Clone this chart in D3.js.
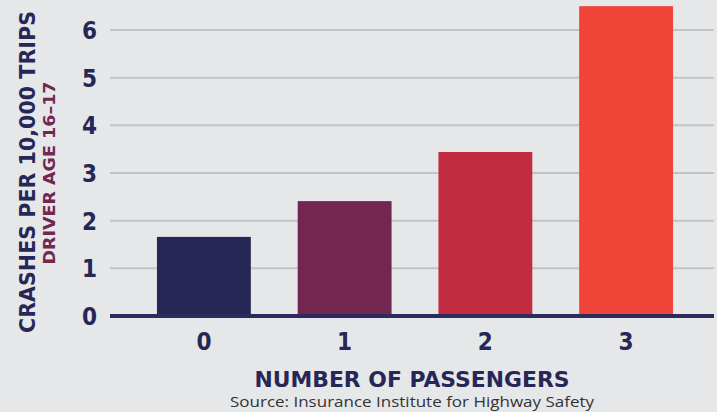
<!DOCTYPE html>
<html><head><meta charset="utf-8">
<script src="https://cdn.jsdelivr.net/npm/d3@7"></script>
<style>body{margin:0;background:#e6e7e9}</style>
</head><body>
<svg id="c" width="717" height="412"></svg>
<script>
const categories = ["0","1","2","3"];
const values = [1.66, 2.41, 3.44, 6.5];
const colors = ["#262756","#722650","#c22b40","#f04438"];
const yTicks = [0,1,2,3,4,5,6];

const svg = d3.select("#c");
svg.append("rect").attr("width",717).attr("height",412).attr("fill","#e6e7e9");
const x = d3.scaleBand().domain(categories).range([133.5, 696.5]).paddingInner(0.333).paddingOuter(0.1667);
const y = d3.scaleLinear().domain([0,6]).range([316, 30]);

const grid = svg.append("g");
grid.selectAll("line").data(yTicks.filter(d=>d>0)).join("line")
  .attr("x1",110).attr("x2",714).attr("y1",d=>y(d)).attr("y2",d=>y(d))
  .attr("stroke","#c2c3c5").attr("stroke-width",2);

svg.append("g").selectAll("rect").data(values).join("rect")
  .attr("x",(d,i)=>x(categories[i])).attr("width",x.bandwidth())
  .attr("y",d=>y(d)).attr("height",d=>y(0)-y(d))
  .attr("fill",(d,i)=>colors[i]);

svg.append("line").attr("x1",110).attr("x2",714).attr("y1",y(0)).attr("y2",y(0))
  .attr("stroke","#2b2b5e").attr("stroke-width",4);

const tf = "'DejaVu Sans Condensed','DejaVu Sans',sans-serif";
svg.append("g").selectAll("text").data(yTicks).join("text")
  .attr("x",97).attr("y",d=>y(d)+9).attr("text-anchor","end")
  .attr("font-family",tf).attr("font-stretch","condensed").attr("font-weight","bold").attr("font-size",24)
  .attr("fill","#262756").text(d=>d);

svg.append("g").selectAll("text").data(categories).join("text")
  .attr("x",d=>x(d)+x.bandwidth()/2).attr("y",350).attr("text-anchor","middle")
  .attr("font-family",tf).attr("font-stretch","condensed").attr("font-weight","bold").attr("font-size",24)
  .attr("fill","#262756").text(d=>d);

svg.append("text").attr("x",412).attr("y",387).attr("text-anchor","middle")
  .attr("font-family","'DejaVu Sans',sans-serif").attr("font-weight","bold").attr("font-size",21)
  .attr("textLength",315).attr("lengthAdjust","spacingAndGlyphs")
  .attr("fill","#262756").text("NUMBER OF PASSENGERS");

svg.append("text").attr("x",412).attr("y",407).attr("text-anchor","middle")
  .attr("font-family","'Open Sans',sans-serif").attr("font-size",15)
  .attr("textLength",364).attr("lengthAdjust","spacingAndGlyphs")
  .attr("fill","#333").text("Source: Insurance Institute for Highway Safety");

svg.append("text").attr("transform","translate(35,172) rotate(-90)").attr("text-anchor","middle")
  .attr("font-family","'DejaVu Sans',sans-serif").attr("font-weight","bold").attr("font-size",21)
  .attr("textLength",322).attr("lengthAdjust","spacingAndGlyphs")
  .attr("fill","#262756").text("CRASHES PER 10,000 TRIPS");

svg.append("text").attr("transform","translate(55,173) rotate(-90)").attr("text-anchor","middle")
  .attr("font-family","'DejaVu Sans',sans-serif").attr("font-weight","bold").attr("font-size",16)
  .attr("textLength",183).attr("lengthAdjust","spacingAndGlyphs")
  .attr("fill","#722650").text("DRIVER AGE 16–17");
</script>
</body></html>
